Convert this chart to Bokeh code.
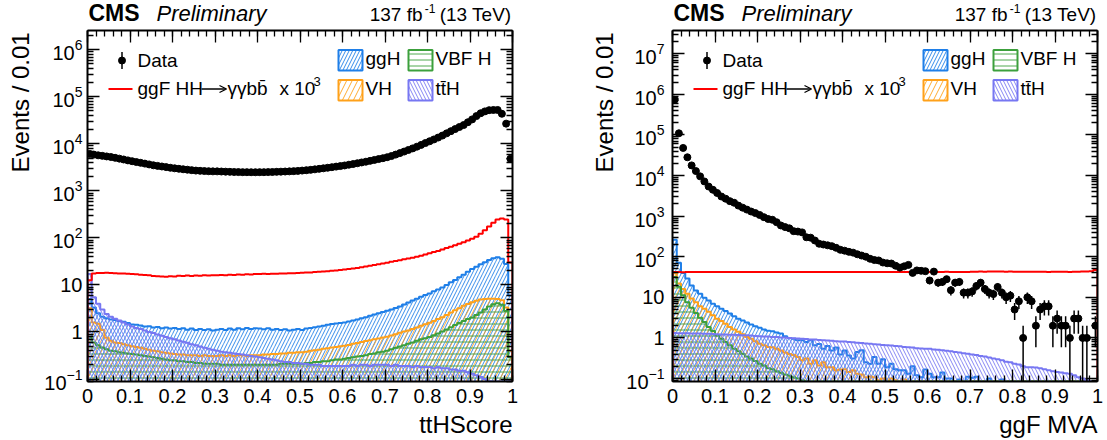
import numpy as np
from bokeh.plotting import figure
from bokeh.layouts import row, column
from bokeh.models import (Range1d, LinearAxis, LogAxis, FixedTicker, Label, CustomJSTickFormatter,
                          LogTickFormatter, AllLabels, Arrow, OpenHead)
from bokeh.embed import file_html
from bokeh.resources import INLINE

BIN_W = 0.01
N_BINS = 100

# ---------------- left panel: ttHScore ----------------
tth_data = [6100, 5900, 5700, 5550, 5400, 5250, 5050, 4850, 4650, 4450,
            4270, 4100, 3950, 3800, 3650, 3500, 3400, 3300, 3200, 3100,
            3020, 2950, 2880, 2820, 2760, 2700, 2670, 2640, 2620, 2600,
            2600, 2580, 2560, 2540, 2520, 2510, 2500, 2500, 2490, 2490,
            2500, 2500, 2510, 2520, 2540, 2560, 2580, 2600, 2630, 2660,
            2700, 2750, 2800, 2870, 2940, 3020, 3100, 3190, 3280, 3370,
            3470, 3600, 3720, 3870, 4020, 4170, 4350, 4550, 4750, 4950,
            5190, 5500, 5900, 6350, 6850, 7410, 8000, 8700, 9500, 10400,
            11350, 12400, 13600, 15000, 16700, 18600, 20600, 22800, 25100, 28800,
            33100, 38900, 44700, 49000, 52000, 52500, 52500, 43600, 26900, 4800]
tth_hh = [12.6, 17.5, 18, 18, 18.2, 18, 17.8, 17.6, 17.5, 17.2,
          17, 16.8, 16.5, 16.3, 16, 15.5, 15.3, 15.2, 15, 15.3,
          15.2, 15.6, 15.4, 15.8, 15.5, 15.9, 15.7, 16, 15.8, 16.1,
          16, 16.3, 16.1, 16.4, 16.3, 16.6, 16.5, 16.8, 16.7, 17,
          17, 17.2, 17.1, 17.4, 17.3, 17.6, 17.5, 17.8, 17.8, 18,
          18.1, 18.3, 18.5, 18.8, 19, 19.3, 19.6, 20, 20.3, 20.8,
          21.2, 21.8, 22.4, 23, 23.8, 24.6, 25.5, 26.5, 27.5, 28.6,
          29.8, 31, 32.2, 33.5, 35, 36.5, 38, 40, 42, 44.5,
          47, 50, 53, 57, 61, 65, 70, 75, 81, 88,
          96, 106, 122, 145, 175, 210, 245, 258, 245, 30]
tth_ggh = [5.0, 3.3, 2.5, 2.1, 1.95, 1.85, 1.8, 1.72, 1.65, 1.55,
           1.45, 1.42, 1.38, 1.3, 1.32, 1.25, 1.28, 1.2, 1.24, 1.18,
           1.22, 1.15, 1.2, 1.12, 1.18, 1.1, 1.16, 1.1, 1.14, 1.08,
           1.12, 1.15, 1.1, 1.18, 1.12, 1.2, 1.14, 1.22, 1.16, 1.2,
           1.18, 1.14, 1.2, 1.12, 1.16, 1.1, 1.14, 1.08, 1.12, 1.15,
           1.1, 1.18, 1.22, 1.26, 1.3, 1.36, 1.42, 1.48, 1.52, 1.56,
           1.6, 1.68, 1.75, 1.85, 1.95, 2.05, 2.2, 2.35, 2.5, 2.65,
           2.82, 3.0, 3.25, 3.5, 3.85, 4.25, 4.65, 5.1, 5.6, 6.1,
           6.6, 7.3, 8.0, 8.8, 10.0, 11.4, 12.8, 14.5, 16.5, 19,
           21.9, 24.5, 27.5, 30.5, 34, 37, 39, 36, 28, 6]
tth_vbf = [0.76, 0.6, 0.52, 0.47, 0.43, 0.4, 0.39, 0.37, 0.36, 0.35,
           0.34, 0.33, 0.32, 0.31, 0.3, 0.29, 0.28, 0.27, 0.26, 0.25,
           0.25, 0.24, 0.24, 0.23, 0.23, 0.22, 0.22, 0.21, 0.21, 0.21,
           0.21, 0.2, 0.2, 0.2, 0.2, 0.2, 0.2, 0.2, 0.2, 0.2,
           0.2, 0.2, 0.2, 0.2, 0.2, 0.21, 0.21, 0.21, 0.21, 0.21,
           0.21, 0.22, 0.22, 0.23, 0.23, 0.24, 0.24, 0.25, 0.26, 0.26,
           0.27, 0.28, 0.29, 0.3, 0.31, 0.32, 0.34, 0.35, 0.37, 0.38,
           0.4, 0.43, 0.46, 0.49, 0.52, 0.56, 0.6, 0.65, 0.7, 0.74,
           0.78, 0.85, 0.93, 1.02, 1.13, 1.26, 1.4, 1.55, 1.72, 1.88,
           2.04, 2.3, 2.6, 3.0, 3.5, 3.9, 4.1, 3.8, 2.8, 0.29]
tth_vh = [3.2, 1.6, 1.5, 1.1, 0.75, 0.65, 0.6, 0.58, 0.55, 0.52,
          0.5, 0.48, 0.46, 0.44, 0.42, 0.4, 0.39, 0.37, 0.36, 0.35,
          0.34, 0.33, 0.33, 0.32, 0.32, 0.32, 0.31, 0.32, 0.31, 0.31,
          0.31, 0.32, 0.31, 0.32, 0.31, 0.32, 0.32, 0.31, 0.32, 0.32,
          0.32, 0.33, 0.33, 0.34, 0.34, 0.35, 0.35, 0.36, 0.36, 0.37,
          0.37, 0.38, 0.4, 0.41, 0.42, 0.44, 0.45, 0.47, 0.48, 0.5,
          0.51, 0.53, 0.56, 0.58, 0.61, 0.64, 0.67, 0.7, 0.73, 0.76,
          0.79, 0.84, 0.9, 0.96, 1.02, 1.07, 1.15, 1.25, 1.35, 1.46,
          1.58, 1.72, 1.88, 2.05, 2.3, 2.6, 2.9, 3.2, 3.6, 3.95,
          4.27, 4.6, 4.9, 5.0, 5.1, 5.1, 5.0, 4.7, 3.3, 0.4]
tth_tth = [17, 5.5, 4.0, 3.0, 2.4, 2.1, 1.9, 1.75, 1.6, 1.45,
           1.3, 1.22, 1.15, 1.08, 1.0, 0.95, 0.88, 0.83, 0.78, 0.74,
           0.7, 0.66, 0.62, 0.59, 0.55, 0.52, 0.49, 0.46, 0.44, 0.42,
           0.4, 0.38, 0.37, 0.36, 0.35, 0.34, 0.33, 0.32, 0.31, 0.3,
           0.29, 0.28, 0.27, 0.26, 0.25, 0.24, 0.23, 0.23, 0.22, 0.22,
           0.21, 0.21, 0.2, 0.2, 0.2, 0.19, 0.19, 0.19, 0.19, 0.19,
           0.19, 0.19, 0.2, 0.19, 0.2, 0.2, 0.19, 0.2, 0.2, 0.2,
           0.2, 0.19, 0.2, 0.19, 0.19, 0.19, 0.18, 0.19, 0.18, 0.18,
           0.18, 0.17, 0.18, 0.17, 0.17, 0.16, 0.16, 0.15, 0.15, 0.14,
           0.13, 0.12, 0.11, 0.1, 0.09, 0.085, 0.08, 0.08, 0.08, 0.09]

# ---------------- right panel: ggF MVA ----------------
mva_data = [736000, 110000, 47900, 28200, 17800, 12900, 9550, 7160, 5370, 4470,
            3720, 3050, 2690, 2340, 2140, 1820, 1620, 1450, 1300, 1190,
            1070, 944, 851, 813, 708, 589, 537, 501, 427, 417,
            398, 302, 295, 251, 209, 200, 191, 182, 166, 148,
            141, 132, 126, 115, 107, 100, 89, 83, 81, 72,
            69, 68, 60, 54, 58, 63, 40, 46, 45, 44,
            26, 43, 23, 24, 28, 15, 23, 24, 13, 13,
            14, 19, 23, 16, 13, 12, 18, 13, 10, 11,
            5, 8, 1, 10, 8, 2, 5, 6, 6, 2,
            3, 2, 2, 1, 3, 3, 1, 1, 0, 2]
mva_hh = [42, 42, 41.5, 42, 42, 41.8, 42, 42.2, 41.9, 42,
          42.1, 41.8, 42, 42.2, 41.9, 42, 42.1, 41.8, 42, 42.2,
          42, 41.9, 42.1, 42, 41.8, 42, 42.2, 42, 41.9, 42.1,
          42, 42.2, 41.9, 42, 42.1, 41.8, 42, 42.2, 42, 41.9,
          42.1, 42, 41.8, 42.2, 42, 41.9, 42.1, 42, 42.3, 41.9,
          42, 42.2, 41.8, 42.1, 42, 42.3, 41.9, 42, 42.2, 42,
          42.1, 41.8, 42.2, 42, 42.4, 41.9, 42.1, 42.3, 42, 42.2,
          42.5, 42.8, 43.2, 42.9, 43.4, 43, 43.5, 43.1, 42.8, 43.2,
          42.9, 42.6, 42.9, 42.5, 42.7, 42.4, 42.8, 42.5, 42.3, 42.6,
          42.4, 42.7, 42.5, 42.3, 42.6, 42.8, 43, 43.2, 44, 47]
mva_ggh = [263, 71, 40, 29, 19.5, 14.8, 12.3, 9.8, 8.3, 6.9,
           6.0, 5.2, 4.6, 4.0, 3.4, 2.95, 2.7, 2.4, 2.14, 1.95,
           1.78, 1.62, 1.51, 1.45, 1.35, 1.29, 1.1, 1.0, 0.95, 0.87,
           0.87, 0.79, 0.87, 0.66, 0.71, 0.54, 0.63, 0.49, 0.58, 0.39,
           0.49, 0.37, 0.31, 0.45, 0.5, 0.25, 0.23, 0.34, 0.23, 0.3,
           0.19, 0.23, 0.17, 0.16, 0.16, 0.13, 0.2, 0.12, 0.107, 0.166,
           0.13, 0.107, 0.107, 0.14, 0.1, 0.1, 0.08, 0.095, 0.07, 0.11,
           0.105, 0.11, 0.06, 0.07, 0.1, 0.06, 0.05, 0.095, 0.05, 0.04,
           0.04, 0.05, 0.03, 0.04, 0.03, 0.03, 0.02, 0.03, 0.02, 0.02,
           0.02, 0.02, 0.01, 0.02, 0.01, 0.01, 0.01, 0.01, 0.01, 0.01]
mva_vbf = [31.6, 18.2, 11.2, 7.6, 5.5, 4.1, 3.16, 2.45, 1.86, 1.48,
           1.15, 0.95, 0.79, 0.66, 0.54, 0.47, 0.41, 0.35, 0.31, 0.27,
           0.23, 0.21, 0.18, 0.17, 0.15, 0.138, 0.126, 0.117, 0.107, 0.1,
           0.09, 0.085, 0.08, 0.075, 0.07, 0.065, 0.06, 0.055, 0.05, 0.045,
           0.04, 0.038, 0.036, 0.034, 0.032, 0.03, 0.028, 0.026, 0.024, 0.022,
           0.02, 0.019, 0.018, 0.017, 0.016, 0.015, 0.014, 0.013, 0.012, 0.011,
           0.01, 0.01, 0.01, 0.01, 0.01, 0.01, 0.01, 0.01, 0.01, 0.01,
           0.01, 0.01, 0.01, 0.01, 0.01, 0.01, 0.01, 0.01, 0.01, 0.01,
           0.01, 0.01, 0.01, 0.01, 0.01, 0.01, 0.01, 0.01, 0.01, 0.01,
           0.01, 0.01, 0.01, 0.01, 0.01, 0.01, 0.01, 0.01, 0.01, 0.01]
mva_vh = [40, 22, 16, 12.3, 9.3, 7.6, 6.0, 5.2, 4.4, 3.6,
          2.95, 2.6, 2.24, 1.86, 1.62, 1.41, 1.23, 1.05, 0.95, 0.83,
          0.72, 0.66, 0.6, 0.59, 0.54, 0.49, 0.44, 0.4, 0.38, 0.34,
          0.28, 0.31, 0.23, 0.28, 0.21, 0.25, 0.19, 0.19, 0.16, 0.166,
          0.17, 0.145, 0.16, 0.13, 0.126, 0.107, 0.112, 0.107, 0.09, 0.1,
          0.085, 0.1, 0.09, 0.08, 0.095, 0.07, 0.06, 0.05, 0.05, 0.04,
          0.04, 0.035, 0.03, 0.03, 0.025, 0.02, 0.02, 0.02, 0.015, 0.015,
          0.01, 0.01, 0.01, 0.01, 0.01, 0.01, 0.01, 0.01, 0.01, 0.01,
          0.01, 0.01, 0.01, 0.01, 0.01, 0.01, 0.01, 0.01, 0.01, 0.01,
          0.01, 0.01, 0.01, 0.01, 0.01, 0.01, 0.01, 0.01, 0.01, 0.01]
mva_tth = [1.32, 1.31, 1.3, 1.3, 1.29, 1.28, 1.28, 1.27, 1.26, 1.25,
           1.23, 1.22, 1.21, 1.2, 1.19, 1.18, 1.17, 1.16, 1.14, 1.12,
           1.10, 1.09, 1.08, 1.06, 1.05, 1.03, 1.02, 1.0, 0.98, 0.97,
           0.95, 0.94, 0.92, 0.91, 0.89, 0.88, 0.86, 0.85, 0.83, 0.82,
           0.81, 0.79, 0.78, 0.76, 0.75, 0.73, 0.72, 0.7, 0.69, 0.67,
           0.66, 0.65, 0.63, 0.62, 0.6, 0.59, 0.58, 0.56, 0.55, 0.54,
           0.54, 0.52, 0.51, 0.5, 0.48, 0.47, 0.45, 0.44, 0.42, 0.41,
           0.39, 0.38, 0.36, 0.35, 0.33, 0.31, 0.3, 0.28, 0.26, 0.25,
           0.23, 0.22, 0.2, 0.19, 0.19, 0.186, 0.18, 0.17, 0.16, 0.15,
           0.145, 0.14, 0.135, 0.13, 0.12, 0.107, 0.1, 0.09, 0.085, 0.08]

FONT = "Liberation Sans"
C_GGH, C_VBF, C_VH, C_TTH, C_HH = "#1f7fe8", "#3ca03c", "#ffa11a", "#7777f2", "#ff0000"

HEAD_H, TOP_B, FH, BOT_B, FOOT_H = 26, 4, 351, 31, 28
FT = HEAD_H + TOP_B          # global y of frame top
FW = 425
ROW_H = TOP_B + FH + BOT_B


def label(fig, x, y, text, size, align="left", baseline="middle", style="normal",
          angle=0.0, font=FONT):
    fig.add_layout(Label(x=float(x), y=float(y), text=text, text_font=font,
                         text_font_size=f"{size}px", text_align=align,
                         text_baseline=baseline, text_font_style=style,
                         text_color="black", angle=float(angle)))


def canvas_fig(w, h):
    f = figure(width=w, height=h, x_range=Range1d(0, w), y_range=Range1d(h, 0),
               min_border=0, x_axis_location=None, y_axis_location=None,
               toolbar_location=None, output_backend="svg", title=None)
    f.grid.visible = False
    f.outline_line_color = None
    f.background_fill_color = "white"
    f.border_fill_color = "white"
    return f


def build(spec):
    fl = spec["fl"]
    ytop, ybot = spec["ylog"]
    ppd = FH / (ytop - ybot)

    def X(gx):
        return float((gx - fl) / FW)

    def Y(gy):
        return float(10 ** (ytop - (gy - FT) / ppd))

    p = figure(frame_width=FW, frame_height=FH, min_border_left=spec["bl"],
               min_border_right=spec["br"], min_border_top=TOP_B,
               min_border_bottom=BOT_B, x_range=Range1d(0, 1),
               y_range=Range1d(10 ** ybot, 10 ** ytop), y_axis_type="log",
               output_backend="svg", toolbar_location=None, title=None)
    p.grid.visible = False
    p.outline_line_color = None
    p.background_fill_color = "white"
    p.border_fill_color = "white"

    xt = FixedTicker(ticks=[i / 10 for i in range(11)], minor_ticks=[i / 50 for i in range(51)])
    yt = FixedTicker(ticks=[10.0 ** k for k in range(-2, 9)],
                     minor_ticks=[m * 10.0 ** k for k in range(-2, 9) for m in range(2, 10)])

    def style(ax, show):
        ax.axis_line_width = 2
        ax.axis_line_color = "black"
        ax.major_tick_in = 12
        ax.major_tick_out = 0
        ax.minor_tick_in = 6
        ax.minor_tick_out = 0
        ax.major_tick_line_width = 1.3
        ax.minor_tick_line_width = 1.3
        ax.major_tick_line_color = "black"
        ax.minor_tick_line_color = "black"
        if show:
            ax.major_label_text_font = FONT
            ax.major_label_text_font_size = "20px"
            ax.major_label_text_color = "black"
            ax.major_label_policy = AllLabels()
        else:
            ax.formatter = CustomJSTickFormatter(code="return ''")
            ax.major_label_text_font_size = "1px"
            ax.major_label_standoff = 0

    bx = p.xaxis[0]
    bx.ticker = xt
    style(bx, True)
    bx.formatter = CustomJSTickFormatter(code="return Number(tick.toFixed(2)).toString()")
    bx.major_label_standoff = 7
    ly = p.yaxis[0]
    ly.ticker = yt
    style(ly, True)
    ly.formatter = LogTickFormatter()
    ly.major_label_overrides = {1.0: "1", 10.0: "10"}
    ly.major_label_standoff = spec["lab_gap"]
    ax_top = LinearAxis(ticker=xt)
    style(ax_top, False)
    p.add_layout(ax_top, "above")
    ax_r = LogAxis(ticker=yt)
    style(ax_r, False)
    p.add_layout(ax_r, "right")

    edges = np.arange(N_BINS + 1) * BIN_W
    centers = edges[:-1] + BIN_W / 2
    ymin_draw = 10 ** ybot

    hists = [(spec["ggh"], C_GGH, "/", 7), (spec["vh"], C_VH, "/", 11),
             (spec["vbf"], C_VBF, "-", 6), (spec["tth"], C_TTH, "\\", 7)]
    for vals, col, pat, sc in hists:
        v = np.asarray(vals, float)
        p.quad(left=edges[:-1], right=edges[1:], bottom=1e-4, top=v, fill_alpha=0,
               line_alpha=0, hatch_pattern=pat, hatch_color=col, hatch_scale=sc,
               hatch_weight=0.9)
        vd = np.maximum(v, ymin_draw)
        ys = np.concatenate([[ymin_draw], np.repeat(vd, 2), [ymin_draw]])
        p.line(np.repeat(edges, 2), ys, line_color=col, line_width=2)

    hh = np.maximum(np.asarray(spec["hh"], float), ymin_draw)
    p.line(np.repeat(edges, 2), np.concatenate([[ymin_draw], np.repeat(hh, 2), [ymin_draw]]),
           line_color=C_HH, line_width=2)

    d = np.asarray(spec["data"], float)
    m = d > 0
    err = np.sqrt(d[m])
    lo = np.maximum(d[m] - err, ymin_draw * 0.5)
    p.segment(centers[m], lo, centers[m], d[m] + err, line_color="black", line_width=1.5)
    p.scatter(centers[m], d[m], size=7, color="black")

    # legend (inside the frame)
    mx = fl + 34.5
    p.segment([X(mx)], [Y(51.5)], [X(mx)], [Y(68.5)], line_color="black", line_width=1.5)
    p.scatter([X(mx)], [Y(60)], size=7, color="black")
    label(p, X(fl + 50), Y(60), "Data", 19)
    p.line([X(fl + 21), X(fl + 45)], [Y(88.5), Y(88.5)], line_color=C_HH, line_width=2)
    label(p, X(fl + 50), Y(88), "ggF HH", 19)
    p.add_layout(Arrow(end=OpenHead(size=7, line_width=1.3, line_color="black"),
                       x_start=X(fl + 114), y_start=Y(88.5), x_end=X(fl + 139), y_end=Y(88.5),
                       line_width=1.3, line_color="black"))
    label(p, X(fl + 140), Y(88), "\u03b3\u03b3bb\u0304", 19)
    label(p, X(fl + 192), Y(88), "x 10", 19)
    label(p, X(fl + 226), Y(81), "3", 13)
    boxes = [(251, 49.5, 70, C_GGH, "/", 7, "ggH"), (321, 49.5, 70, C_VBF, "-", 6, "VBF H"),
             (251, 79.5, 100, C_VH, "/", 11, "VH"), (321, 79.5, 100, C_TTH, "\\", 7, "t\u0074\u0304H")]
    for bxl, bt, bb, col, pat, sc, name in boxes:
        p.quad(left=[X(fl + bxl)], right=[X(fl + bxl + 24)], top=[Y(bt)], bottom=[Y(bb)],
               fill_alpha=0, line_color=col, line_width=2, hatch_pattern=pat,
               hatch_color=col, hatch_scale=sc, hatch_weight=0.9)
        label(p, X(fl + bxl + 27), Y((bt + bb) / 2 - 1.5), name, 19)
    return p


LEFT = dict(fl=87, bl=47, br=41, ylog=(6.41, -1.053), lab_gap=5, xtitle="ttHScore",
            data=tth_data, hh=tth_hh, ggh=tth_ggh, vbf=tth_vbf, vh=tth_vh, tth=tth_tth)
RIGHT = dict(fl=672, bl=52, br=10, ylog=(7.574, -1.074), lab_gap=8, xtitle="ggF MVA",
             data=mva_data, hh=mva_hh, ggh=mva_ggh, vbf=mva_vbf, vh=mva_vh, tth=mva_tth)

main_l = build(LEFT)
main_r = build(RIGHT)

# header strip (CMS label and luminosity)
header = canvas_fig(1107, HEAD_H)
for spec in (LEFT, RIGHT):
    fl = spec["fl"]
    fr = fl + FW
    label(header, fl + 1, 12.8, "CMS", 23, style="bold")
    label(header, fl + 69, 13, "Preliminary", 22, style="italic")
    label(header, fr - 1, 14, "(13 TeV)", 19, align="right")
    label(header, fr - 77, 8, "-1", 12, align="right")
    label(header, fr - 90, 14, "137 fb", 19, align="right")

# y-title strips
strip_l = canvas_fig(40, ROW_H)
label(strip_l, 20.2, 28 - HEAD_H, "Events / 0.01", 24, align="right", angle=np.pi / 2)
strip_r_x0 = 40 + 47 + FW + 41
strip_r = canvas_fig(RIGHT["fl"] - RIGHT["bl"] - strip_r_x0, ROW_H)
label(strip_r, 603.7 - strip_r_x0, 28 - HEAD_H, "Events / 0.01", 24, align="right",
      angle=np.pi / 2)

# x-title footer
footer = canvas_fig(1107, FOOT_H)
foot_y0 = HEAD_H + ROW_H
for spec in (LEFT, RIGHT):
    label(footer, spec["fl"] + FW, 424 - foot_y0, spec["xtitle"], 24, align="right")

layout = column(header, row(strip_l, main_l, strip_r, main_r), footer)
open("out.html", "w").write(file_html(layout, INLINE))
